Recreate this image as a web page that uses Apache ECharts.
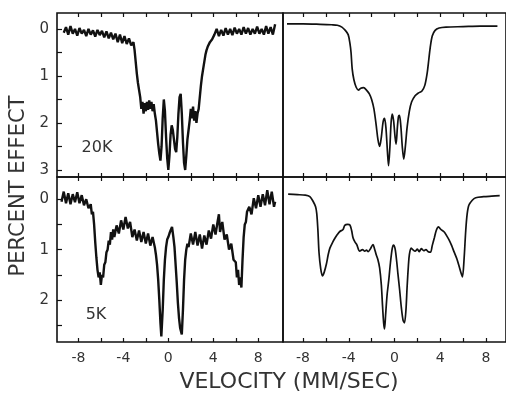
<!DOCTYPE html>
<html>
<head>
<meta charset="utf-8">
<title>Mossbauer spectra</title>
<script src="https://cdn.jsdelivr.net/npm/echarts@6/dist/echarts.min.js"></script>
<style>html,body{margin:0;padding:0;background:#fff}</style>
</head>
<body>
<div id="main" style="width:506px;height:394px;"></div>
<script type="text/javascript">
// velocity ticks / labels (mm/sec)
const xTicks = [-8, -6, -4, -2, 0, 2, 4, 6, 8];
const xLabels = [-8, -4, 0, 4, 8];
const yTicksTop = [0, 0.5, 1, 1.5, 2, 2.5, 3];
const yLabelsTop = [0, 1, 2, 3];
const yTicksBot = [0, 0.5, 1, 1.5, 2, 2.5];
const yLabelsBot = [0, 1, 2];

const vel20 = [-9.3,-9.1,-8.9,-8.7,-8.5,-8.3,-8.1,-7.9,-7.7,-7.5,-7.3,-7.1,-6.9,-6.7,-6.5,-6.3,-6.1,-5.9,-5.7,-5.5,-5.3,-5.1,-4.9,-4.7,-4.5,-4.3,-4.1,-3.9,-3.7,-3.5,-3.3,-3.1,
  -3.0,-2.9,-2.8,-2.7,-2.6,-2.5,-2.4,-2.3,-2.2,-2.1,-2.0,-1.9,-1.8,-1.7,-1.6,-1.5,-1.4,-1.3,-1.2,-1.1,-1.0,-0.9,-0.8,-0.7,-0.6,-0.5,-0.4,-0.3,-0.2,-0.1,
  0.0,0.1,0.2,0.3,0.4,0.5,0.6,0.7,0.8,0.9,1.0,1.1,1.2,1.3,1.4,1.5,1.6,1.7,1.8,1.9,2.0,2.1,2.2,2.3,2.4,2.5,2.6,2.7,2.8,2.9,3.0,3.1,3.2,3.3,3.4,3.5,3.7,3.9,
  4.1,4.3,4.5,4.7,4.9,5.1,5.3,5.5,5.7,5.9,6.1,6.3,6.5,6.7,6.9,7.1,7.3,7.5,7.7,7.9,8.1,8.3,8.5,8.7,8.9,9.1,9.3,9.5];
const eff20 = [0.08,-0.04,0.12,-0.06,0.1,0.0,0.14,-0.02,0.1,0.02,0.15,0.0,0.12,0.03,0.16,0.02,0.13,0.04,0.18,0.05,0.2,0.08,0.22,0.1,0.28,0.12,0.3,0.15,0.32,0.2,0.35,0.28,
  0.45,0.7,0.95,1.15,1.3,1.45,1.7,1.55,1.8,1.58,1.75,1.55,1.72,1.52,1.7,1.55,1.75,1.6,1.8,1.95,2.2,2.45,2.65,2.8,2.5,1.9,1.5,1.75,2.3,2.75,
  3.0,2.7,2.25,2.05,2.15,2.35,2.55,2.62,2.3,1.8,1.45,1.38,1.8,2.4,2.85,3.0,2.7,2.35,2.15,1.95,1.7,1.9,1.65,1.95,1.75,2.0,1.8,1.7,1.45,1.2,1.0,0.85,0.7,0.55,0.45,0.38,0.28,0.22,
  0.12,0.0,0.15,0.02,0.14,-0.02,0.12,0.0,0.13,-0.03,0.1,0.0,0.12,-0.04,0.1,-0.02,0.12,0.0,0.1,-0.05,0.1,0.0,0.12,-0.06,0.1,-0.04,0.12,-0.1];

// 20K fitted curve
const velFit20 = [-9.4,-8,-6.5,-5.5,-5.0,-4.6,-4.3,-4.05,-3.9,-3.8,-3.7,-3.55,-3.35,-3.15,-2.95,-2.7,-2.45,-2.2,-2.0,-1.8,-1.6,-1.45,-1.3,-1.15,-1.0,-0.87,-0.75,-0.62,-0.52,-0.4,-0.3,-0.2,-0.08,
  0.05,0.14,0.25,0.35,0.43,0.55,0.68,0.81,0.95,1.1,1.3,1.5,1.8,2.1,2.4,2.65,2.85,3.0,3.12,3.3,3.55,3.9,4.5,6,7.5,9.0];
const fit20 = [-0.11,-0.11,-0.1,-0.09,-0.08,-0.04,0.03,0.12,0.3,0.5,0.85,1.08,1.24,1.3,1.26,1.25,1.3,1.38,1.5,1.7,2.05,2.35,2.5,2.3,1.98,1.9,2.1,2.6,2.91,2.5,2.0,1.81,1.95,
  2.3,2.45,2.1,1.86,1.84,2.05,2.5,2.77,2.5,2.1,1.75,1.55,1.42,1.36,1.32,1.2,0.95,0.65,0.4,0.15,0.03,-0.02,-0.04,-0.05,-0.06,-0.06];

// 5K measured spectrum
const vel5 = [-9.5,-9.3,-9.1,-8.9,-8.7,-8.5,-8.3,-8.1,-7.9,-7.7,-7.5,-7.3,-7.1,-6.9,-6.8,-6.7,-6.6,-6.5,-6.4,-6.3,-6.2,-6.1,-6.0,-5.9,-5.8,-5.7,-5.6,-5.5,-5.4,-5.3,-5.2,-5.1,-5.0,-4.9,-4.8,
  -4.6,-4.4,-4.2,-4.0,-3.8,-3.6,-3.4,-3.2,-3.0,-2.8,-2.6,-2.4,-2.2,-2.0,-1.8,-1.6,-1.4,-1.2,-1.1,-1.0,-0.9,-0.8,-0.7,-0.62,-0.5,-0.4,-0.3,-0.2,-0.1,
  0.0,0.1,0.2,0.33,0.45,0.55,0.65,0.75,0.85,0.95,1.05,1.2,1.3,1.4,1.5,1.6,1.7,1.8,2.0,2.2,2.4,2.6,2.8,3.0,3.2,3.4,3.6,3.8,4.0,4.2,4.4,4.5,4.6,4.8,
  5.0,5.2,5.4,5.6,5.8,6.0,6.1,6.2,6.3,6.4,6.5,6.6,6.7,6.8,6.9,7.0,7.2,7.4,7.6,7.8,8.0,8.2,8.4,8.6,8.8,9.0,9.2,9.4,9.5];
const eff5 = [0.05,-0.15,0.08,-0.12,0.1,-0.1,0.06,-0.14,0.08,-0.08,0.12,0.0,0.18,0.1,0.3,0.25,0.5,0.85,1.15,1.4,1.55,1.45,1.7,1.5,1.55,1.3,1.25,1.05,1.0,0.82,0.9,0.65,0.8,0.6,0.75,
  0.52,0.68,0.42,0.6,0.35,0.58,0.45,0.75,0.6,0.82,0.62,0.85,0.65,0.88,0.68,0.92,0.75,0.95,1.1,1.3,1.6,2.0,2.45,2.72,2.2,1.6,1.2,0.95,0.8,
  0.75,0.68,0.62,0.55,0.75,0.95,1.3,1.65,2.05,2.35,2.55,2.68,2.2,1.6,1.2,1.0,0.88,0.95,0.68,0.9,0.65,0.92,0.7,0.98,0.72,0.9,0.62,0.78,0.5,0.7,0.42,0.3,0.65,0.45,
  0.8,0.7,1.0,0.88,1.2,1.25,1.55,1.4,1.7,1.55,1.75,1.2,0.75,0.5,0.45,0.25,0.15,0.3,-0.02,0.18,-0.08,0.15,-0.1,0.12,-0.18,0.1,-0.15,0.15,0.05];

// 5K fitted curve
const velFit5 = [-9.3,-8.5,-7.8,-7.4,-7.1,-6.9,-6.8,-6.7,-6.6,-6.45,-6.3,-6.15,-5.95,-5.8,-5.65,-5.4,-5.2,-5.0,-4.78,-4.5,-4.35,-4.1,-3.9,-3.75,-3.62,-3.45,-3.3,-3.04,-2.8,-2.6,-2.45,-2.3,-2.1,-1.88,-1.75,-1.6,-1.45,-1.3,-1.15,-1.05,-0.95,-0.87,-0.78,-0.65,-0.5,-0.35,-0.2,-0.09,
  0.05,0.2,0.3,0.45,0.6,0.75,0.87,1.0,1.1,1.22,1.3,1.45,1.6,1.8,2.0,2.15,2.35,2.55,2.75,2.95,3.15,3.3,3.48,3.65,3.85,4.05,4.35,4.55,4.78,5.0,5.2,5.45,5.65,5.8,5.94,6.08,6.23,6.35,6.5,6.8,7.1,7.8,8.5,9.2];
const fit5 = [-0.1,-0.09,-0.08,-0.05,0.05,0.15,0.28,0.6,1.06,1.38,1.52,1.45,1.28,1.1,0.97,0.85,0.77,0.7,0.64,0.6,0.52,0.5,0.51,0.62,0.77,0.85,0.9,1.03,1.0,1.03,1.01,1.04,0.98,0.9,0.98,1.1,1.2,1.36,1.7,2.1,2.45,2.57,2.3,1.9,1.6,1.25,0.98,0.91,
  0.98,1.25,1.48,1.8,2.15,2.4,2.45,2.2,1.75,1.3,1.1,0.97,1.0,1.03,0.99,1.04,0.98,1.02,1.0,1.04,1.05,0.92,0.77,0.62,0.55,0.6,0.65,0.72,0.81,0.92,1.04,1.18,1.33,1.45,1.54,1.2,0.62,0.3,0.12,0.02,-0.03,-0.05,-0.06,-0.07];

function zip(xs, ys) {
    return xs.map(function (x, i) { return [x, ys[i]]; });
}

const ink = '#111';
const txt = '#333';
const font = 'DejaVu Sans';

function xAx(grid, pos, min, max, labels) {
    return {
        type: 'value', gridIndex: grid, position: pos, min: min, max: max,
        axisLine: {show: false, onZero: false}, splitLine: {show: false},
        axisTick: {show: true, inside: true, length: 4, customValues: xTicks, lineStyle: {color: ink, width: 1.2}},
        axisLabel: {show: labels, customValues: xLabels, color: txt, fontSize: 14, fontFamily: font, margin: 9}
    };
}

function yAx(grid, min, max, ticks, labels, show) {
    return {
        type: 'value', gridIndex: grid, position: 'left', inverse: true, min: min, max: max,
        axisLine: {show: false, onZero: false}, splitLine: {show: false},
        axisTick: {show: show, inside: true, length: 5, customValues: ticks, lineStyle: {color: ink, width: 1.2}},
        axisLabel: {show: show, customValues: labels, color: txt, fontSize: 15, fontFamily: font, margin: 8}
    };
}

const chart = echarts.init(document.getElementById('main'));
const frame = {show: true, borderColor: ink, borderWidth: 1.6, backgroundColor: 'transparent'};

const option = {
    animation: false,
    backgroundColor: '#fff',
    grid: [
        Object.assign({left: 57, top: 13, width: 226, height: 164}, frame),
        Object.assign({left: 283, top: 13, width: 224, height: 164}, frame),
        Object.assign({left: 57, top: 177, width: 226, height: 165}, frame),
        Object.assign({left: 283, top: 177, width: 224, height: 165}, frame)
    ],
    xAxis: [
        xAx(0, 'bottom', -9.9, 10.2, false), xAx(0, 'top', -9.9, 10.2, false),
        xAx(1, 'bottom', -9.75, 9.75, false), xAx(1, 'top', -9.75, 9.75, false),
        xAx(2, 'bottom', -9.9, 10.2, true), xAx(2, 'top', -9.9, 10.2, false),
        xAx(3, 'bottom', -9.75, 9.75, true), xAx(3, 'top', -9.75, 9.75, false)
    ],
    yAxis: [
        yAx(0, -0.34, 3.15, yTicksTop, yLabelsTop, true),
        yAx(1, -0.34, 3.15, yTicksTop, yLabelsTop, false),
        yAx(2, -0.44, 2.83, yTicksBot, yLabelsBot, true),
        yAx(3, -0.44, 2.83, yTicksBot, yLabelsBot, false)
    ],
    series: [
        {type: 'line', xAxisIndex: 0, yAxisIndex: 0, data: zip(vel20, eff20), showSymbol: false,
            lineStyle: {color: ink, width: 2.4}},
        {type: 'line', xAxisIndex: 2, yAxisIndex: 1, data: zip(velFit20, fit20), showSymbol: false, smooth: 0.3,
            lineStyle: {color: ink, width: 1.7}},
        {type: 'line', xAxisIndex: 4, yAxisIndex: 2, data: zip(vel5, eff5), showSymbol: false,
            lineStyle: {color: ink, width: 2.4}},
        {type: 'line', xAxisIndex: 6, yAxisIndex: 3, data: zip(velFit5, fit5), showSymbol: false, smooth: 0.3,
            lineStyle: {color: ink, width: 1.7}}
    ],
    graphic: [
        {type: 'text', x: 19, y: 186, rotation: Math.PI / 2,
            style: {text: 'PERCENT EFFECT', font: '21px ' + font, fill: txt, align: 'center', verticalAlign: 'middle'}},
        {type: 'text', x: 289, y: 382,
            style: {text: 'VELOCITY (MM/SEC)', font: '22px ' + font, fill: txt, align: 'center', verticalAlign: 'middle'}},
        {type: 'text', x: 97, y: 148,
            style: {text: '20K', font: '16px ' + font, fill: txt, align: 'center', verticalAlign: 'middle'}},
        {type: 'text', x: 96, y: 315,
            style: {text: '5K', font: '16px ' + font, fill: txt, align: 'center', verticalAlign: 'middle'}}
    ]
};

chart.setOption(option);
</script>
</body>
</html>
